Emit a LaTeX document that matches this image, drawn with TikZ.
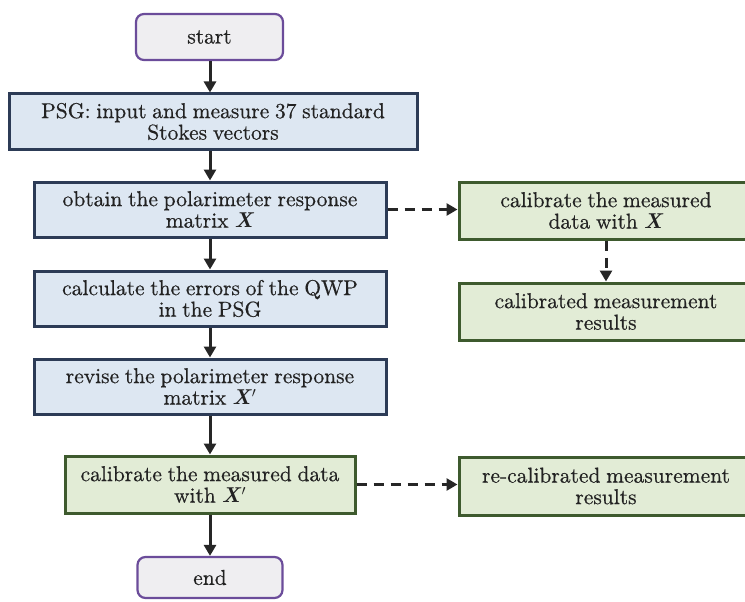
\documentclass[tikz,border=0pt]{standalone}
\usepackage{bm}
\usepackage{fontspec}
\setmainfont{lmroman10-regular.otf}[FakeBold=0.5, WordSpace=0.8,
  BoldFont=lmroman10-bold.otf, ItalicFont=lmroman10-italic.otf,
  BoldItalicFont=lmroman10-bolditalic.otf, BoldItalicFeatures={FakeBold=0}]
\usetikzlibrary{arrows.meta}
\definecolor{bluefill}{HTML}{DDE7F2}
\definecolor{blueline}{HTML}{2C3B56}
\definecolor{greenfill}{HTML}{E2ECD6}
\definecolor{greenline}{HTML}{3E5A2E}
\definecolor{termfill}{HTML}{EFEEF1}
\definecolor{termline}{HTML}{6B4C9A}
\definecolor{arrowcol}{HTML}{262626}
\definecolor{textcol}{HTML}{222222}
\newcommand{\bX}{\textbf{\textit{X}}}
\tikzset{
  basebox/.style={inner sep=0pt, align=center, line width=3pt, text=textcol,
    font=\fontsize{21.5}{21.5}\selectfont},
  bluebox/.style={basebox, draw=blueline, fill=bluefill},
  greenbox/.style={basebox, draw=greenline, fill=greenfill},
  termbox/.style={basebox, draw=termline, fill=termfill, rounded corners=8pt, line width=2.2pt},
  flow/.style={draw=arrowcol, line width=3pt, -{Triangle[length=11pt,width=12pt]}},
  dflow/.style={flow, dash pattern=on 10pt off 7pt},
}
\begin{document}
\begin{tikzpicture}[x=1pt,y=-1pt]
\useasboundingbox (0,0) rectangle (745,602);
\node[termbox, minimum width=147pt, minimum height=46pt] (start) at (209.5,37) {start};
\node[bluebox, minimum width=408pt, minimum height=55pt] (psg) at (213,121.5) {PSG: input and measure 37 standard\\Stokes vectors};
\node[bluebox, minimum width=352pt, minimum height=55pt] (obtain) at (210,209.5) {obtain the polarimeter response\\matrix \bX};
\node[bluebox, minimum width=352pt, minimum height=55pt] (calc) at (210,298.5) {calculate the errors of the QWP\\in the PSG};
\node[bluebox, minimum width=352pt, minimum height=55pt] (revise) at (210,386.5) {revise the polarimeter response\\matrix \bX$'$};
\node[greenbox, minimum width=290pt, minimum height=57pt] (calXp) at (210,484.5) {calibrate the measured data\\with \bX$'$};
\node[termbox, minimum width=145pt, minimum height=41pt] (end) at (210,577.5) {end};
\node[greenbox, minimum width=294pt, minimum height=57pt] (calX) at (606,210.5) {calibrate the measured\\data with \bX};
\node[greenbox, minimum width=294pt, minimum height=57pt] (calres) at (606,311.5) {calibrated measurement\\results};
\node[greenbox, minimum width=294pt, minimum height=58pt] (recal) at (606,486) {re-calibrated measurement\\results};

\draw[flow] (start.south -| obtain) -- (psg.north -| obtain);
\draw[flow] (psg.south -| obtain) -- (obtain);
\draw[flow] (obtain) -- (calc);
\draw[flow] (calc) -- (revise);
\draw[flow] (revise) -- (calXp);
\draw[flow] (calXp) -- (end);
\draw[dflow] (obtain.east) -- (obtain.east -| calX.west);
\draw[dflow] (calX) -- (calres);
\draw[dflow] (calXp.east) -- (calXp.east -| recal.west);
\end{tikzpicture}
\end{document}
